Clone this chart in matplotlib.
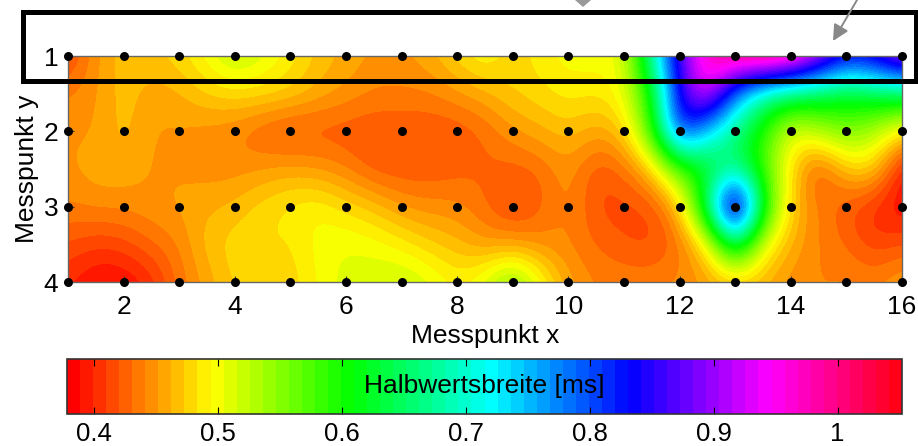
# -*- coding: utf-8 -*-
import numpy as np
import matplotlib
matplotlib.use('Agg')
import matplotlib.pyplot as plt
from matplotlib.colors import BoundaryNorm
from matplotlib.patches import Rectangle, FancyArrowPatch, Polygon

plt.rcParams['font.family'] = ['Liberation Sans', 'DejaVu Sans']

W, H = 918, 446

# half-width [ms] on a half step grid
row_10 = [.41, .45, .47, .47, .48, .50, .53, .51, .49, .47, .46, .45, .45, .46, .48, .50,
          .475, .49, .50, .50, .50, .68, .87, .98, 1.02, 1.05, 1.03, .94, .85, .87, .94]
row_15 = [.44, .45, .47, .455, .46, .475, .48, .48, .475, .46, .45, .44, .44, .44, .45, .46,
          .475, .48, .49, .485, .50, .60, .85, .96, .78, .68, .65, .64, .62, .64, .65]
row_20 = [.45, .45, .47, .45, .45, .445, .44, .425, .415, .42, .42, .42, .42, .42, .42, .43,
          .45, .46, .47, .455, .47, .58, .84, .74, .66, .59, .50, .53, .56, .53, .48]
row_25 = [.45, .46, .46, .45, .45, .445, .445, .45, .455, .45, .44, .42, .42, .42, .425, .43,
          .425, .43, .45, .42, .43, .47, .57, .61, .66, .58, .48, .41, .47, .48, .385]
row_30 = [.44, .445, .445, .45, .455, .46, .465, .48, .49, .495, .48, .47, .45, .445, .445, .43,
          .41, .425, .45, .415, .415, .415, .46, .66, .98, .62, .47, .44, .42, .40, .385]
row_35 = [.42, .41, .415, .43, .44, .47, .48, .485, .48, .50, .505, .50, .49, .475, .465, .45,
          .45, .445, .44, .43, .42, .415, .43, .48, .66, .50, .46, .44, .43, .41, .42]
row_40 = [.40, .385, .385, .40, .435, .455, .475, .48, .475, .495, .51, .515, .52, .51, .49, .51,
          .56, .50, .455, .44, .44, .44, .445, .45, .46, .46, .445, .44, .445, .44, .455]

x_ticks = [2, 4, 6, 8, 10, 12, 14, 16]
y_ticks = [1, 2, 3, 4]
cb_ticks = [0.4, 0.5, 0.6, 0.7, 0.8, 0.9, 1]
cb_labels = ['0.4', '0.5', '0.6', '0.7', '0.8', '0.9', '1']
v_min, v_max = 0.378, 1.052

z = np.array([row_10, row_15, row_20, row_25, row_30, row_35, row_40])


def box(x0, y0, x1, y1):
    # pixel box (from top left) to figure fractions
    return [x0 / W, 1 - y1 / H, (x1 - x0) / W, (y1 - y0) / H]


fig = plt.figure(figsize=(W / 100, H / 100), dpi=100)
ax = fig.add_axes(box(68, 56, 902, 282))

levels = np.linspace(v_min, v_max, 65)
cmap = plt.get_cmap('hsv', 64)
norm = BoundaryNorm(levels, 64)
# half step cells, so the outer cell centres fall on the axes limits
im = ax.imshow(z, extent=(0.75, 16.25, 4.25, 0.75), aspect='auto', cmap=cmap, norm=norm,
               interpolation='bicubic', interpolation_stage='data')

xx, yy = np.meshgrid(np.arange(1, 17), np.arange(1, 5))
ax.plot(xx.ravel(), yy.ravel(), 'o', color='black', ms=6.5, mew=0, clip_on=False, zorder=5)

ax.set_xlim(1, 16)
ax.set_ylim(4, 1)
ax.set_xticks(x_ticks)
ax.set_yticks(y_ticks)
ax.tick_params(direction='in', length=4, width=0.8, labelsize=19, color='#333333')
ax.tick_params(axis='x', pad=9)
ax.tick_params(axis='y', pad=7)
ax.set_xlabel('Messpunkt x', fontsize=19, labelpad=4)
ax.set_ylabel('Messpunkt y', fontsize=19, labelpad=3)
for s in ax.spines.values():
    s.set_color('#666666')
    s.set_linewidth(1)

cax = fig.add_axes(box(67, 359, 902, 414))
cb = fig.colorbar(im, cax=cax, orientation='horizontal', spacing='proportional')
cb.set_ticks(cb_ticks)
cb.set_ticklabels(cb_labels)
cb.minorticks_off()
cax.tick_params(axis='x', direction='in', length=5, width=0.8, labelsize=18.5, pad=6, top=True)
cb.outline.set_edgecolor('#333333')
cb.outline.set_linewidth(1.2)
cax.text(0.5, 0.5, 'Halbwertsbreite [ms]', transform=cax.transAxes, ha='center', va='center', fontsize=19)

# black frame and grey pointers, drawn in figure pixels
tr = fig.transFigure
fig.add_artist(Rectangle((22.5 / W, 1 - 80.5 / H), 893 / W, 69 / H, transform=tr, fill=False,
                         edgecolor='black', linewidth=3.6, zorder=10))
fig.add_artist(Polygon([(575 / W, 1.0), (591 / W, 1.0), (583 / W, 1 - 7 / H)], transform=tr,
                       facecolor='#999999', edgecolor='none', zorder=11))
fig.add_artist(FancyArrowPatch((857 / W, 1.0), (833 / W, 1 - 41 / H), transform=tr, arrowstyle='-|>',
                               mutation_scale=24, color='#888888', linewidth=1.4,
                               shrinkA=0, shrinkB=0, zorder=11))

fig.savefig('out.png', dpi=100)
